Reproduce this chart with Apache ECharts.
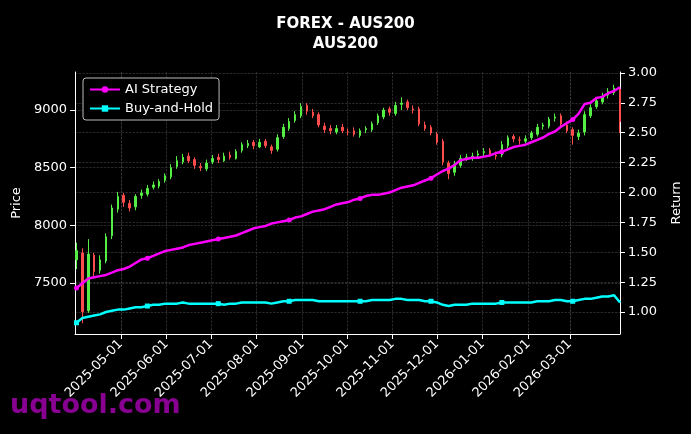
<!DOCTYPE html>
<html>
<head>
<meta charset="utf-8">
<script src="https://cdn.jsdelivr.net/npm/echarts@6/dist/echarts.min.js"></script>
<style>html,body{margin:0;background:#000;}#main{width:691px;height:434px;}</style>
</head>
<body>
<div id="main"></div>
<script>
// one candle every 4 days from 2025-04-01
var startDate = '2025-04-01';
var stepDays = 4;
var closes = [7780,7250,7750,7600,7700,7900,8150,8250,8200,8150,8250,8280,8320,8350,8380,8430,8500,8560,8590,8560,
  8520,8500,8540,8580,8570,8600,8590,8640,8700,8710,8690,8720,8690,8650,8760,8850,8900,8960,9030,8990,
  8950,8870,8830,8820,8840,8820,8810,8790,8820,8840,8880,8950,9000,8980,9040,9060,9020,9000,8880,8840,
  8800,8720,8550,8450,8530,8580,8590,8600,8620,8640,8620,8600,8700,8760,8750,8740,8750,8800,8850,8870,
  8920,8940,8880,8820,8780,8800,8960,9020,9080,9120,9160,9190,8900];
var opens = [7700,7760,7260,7740,7610,7690,7910,8140,8260,8190,8160,8260,8270,8330,8340,8390,8420,8510,8550,8600,
  8570,8510,8490,8550,8590,8560,8610,8580,8650,8690,8720,8680,8730,8680,8660,8770,8840,8910,8950,9040,
  8980,8960,8860,8840,8810,8850,8810,8820,8780,8830,8830,8890,8940,9010,8970,9050,9070,9010,9010,8870,
  8850,8790,8730,8540,8460,8520,8590,8580,8610,8630,8650,8610,8610,8690,8770,8740,8730,8760,8790,8860,
  8860,8930,8950,8870,8830,8770,8810,8950,9030,9070,9130,9150,9180];
var highs = [7850,7800,7880,7760,7740,7930,8180,8290,8280,8220,8270,8310,8350,8380,8400,8450,8530,8600,8620,8630,
  8590,8540,8570,8610,8620,8630,8640,8660,8720,8740,8740,8750,8750,8700,8790,8880,8930,8990,9060,9060,
  9010,8980,8890,8870,8870,8880,8840,8850,8840,8860,8900,8970,9020,9030,9070,9110,9090,9040,9030,8900,
  8870,8810,8750,8560,8560,8610,8620,8630,8650,8670,8670,8640,8730,8780,8790,8770,8780,8820,8880,8890,
  8940,8970,8970,8900,8850,8830,8990,9050,9110,9150,9190,9220,9200];
var lows = [7620,7150,7240,7560,7580,7670,7880,8110,8160,8120,8130,8230,8250,8310,8320,8370,8400,8490,8530,8540,
  8490,8470,8470,8530,8540,8550,8570,8570,8630,8670,8660,8670,8670,8620,8640,8750,8820,8890,8930,8960,
  8930,8850,8800,8790,8790,8800,8780,8770,8760,8800,8810,8870,8920,8950,8950,9000,9000,8970,8860,8820,
  8780,8700,8520,8400,8430,8500,8560,8560,8590,8600,8600,8570,8590,8670,8720,8700,8710,8740,8770,8830,
  8840,8900,8860,8800,8700,8740,8780,8930,9010,9050,9100,9130,8800];
var aiStrategy = [1.20,1.24,1.28,1.29,1.30,1.31,1.33,1.35,1.36,1.38,1.41,1.44,1.45,1.47,1.49,1.51,1.52,1.53,1.54,1.56,
  1.57,1.58,1.59,1.60,1.61,1.62,1.63,1.64,1.66,1.68,1.70,1.71,1.72,1.74,1.75,1.76,1.77,1.79,1.80,1.82,
  1.84,1.85,1.86,1.88,1.90,1.91,1.92,1.94,1.95,1.97,1.98,1.98,1.99,2.00,2.02,2.04,2.05,2.06,2.08,2.10,
  2.12,2.15,2.18,2.20,2.23,2.27,2.28,2.29,2.29,2.30,2.31,2.33,2.34,2.36,2.38,2.39,2.40,2.42,2.44,2.46,
  2.49,2.51,2.55,2.58,2.61,2.66,2.74,2.75,2.79,2.80,2.83,2.85,2.88];
var buyHold = [0.91,0.95,0.96,0.97,0.98,1.00,1.01,1.02,1.02,1.03,1.04,1.04,1.05,1.06,1.06,1.07,1.07,1.07,1.08,1.07,
  1.07,1.07,1.07,1.07,1.07,1.06,1.07,1.07,1.08,1.08,1.08,1.08,1.08,1.07,1.08,1.09,1.09,1.10,1.10,1.10,
  1.10,1.09,1.09,1.09,1.09,1.09,1.09,1.09,1.09,1.09,1.10,1.10,1.10,1.10,1.11,1.11,1.10,1.10,1.10,1.09,
  1.09,1.08,1.06,1.05,1.06,1.06,1.06,1.07,1.07,1.07,1.07,1.07,1.08,1.08,1.08,1.08,1.08,1.08,1.09,1.09,
  1.09,1.10,1.10,1.09,1.09,1.10,1.11,1.11,1.12,1.13,1.13,1.14,1.08];
var monthTicks = ['2025-05-01','2025-06-01','2025-07-01','2025-08-01','2025-09-01','2025-10-01','2025-11-01',
  '2025-12-01','2026-01-01','2026-02-01','2026-03-01'];
var priceTicks = [7500,8000,8500,9000];
var returnTicks = [1.00,1.25,1.50,1.75,2.00,2.25,2.50,2.75,3.00];

var t0 = Date.parse(startDate + 'T00:00:00Z');
var dates = closes.map(function (c, i) { return t0 + i * stepDays * 86400000; });
var candleData = closes.map(function (c, i) { return [dates[i], opens[i], c, lows[i], highs[i]]; });
var aiData = aiStrategy.map(function (v, i) { return [dates[i], v]; });
var bhData = buyHold.map(function (v, i) { return [dates[i], v]; });
var monthTs = monthTicks.map(function (d) { return Date.parse(d + 'T00:00:00Z'); });

// a marker on every 12th point, like the reference
function markEvery(value, params) { return params.dataIndex % 12 === 0 ? 5 : 0; }

var gridLine = { show: true, lineStyle: { color: '#444', type: 'dashed', width: 0.6 } };
var txt = { color: '#fff', fontSize: 13, fontFamily: 'DejaVu Sans' };

var myChart = echarts.init(document.getElementById('main'));
myChart.setOption({
    backgroundColor: '#000',
    animation: false,
    title: {
        text: 'FOREX - AUS200\nAUS200',
        left: 'center', top: 9,
        textStyle: { color: '#fff', fontSize: 15, fontWeight: 'bold', fontFamily: 'DejaVu Sans', lineHeight: 20 }
    },
    graphic: [{
        type: 'text', left: 10, top: 392,
        style: { text: 'uqtool.com', fill: 'rgba(160,0,170,0.85)', font: 'bold 27px DejaVu Sans' }
    }],
    legend: {
        left: 83, top: 78, orient: 'vertical', itemGap: 6,
        backgroundColor: '#000', borderColor: '#bbb', borderWidth: 1, borderRadius: 3, padding: [5, 6],
        itemWidth: 30, itemHeight: 8,
        textStyle: { color: '#fff', fontSize: 13, fontFamily: 'DejaVu Sans' },
        data: ['AI Strategy', 'Buy-and-Hold']
    },
    grid: { left: 75, right: 70, top: 72, bottom: 100 },
    xAxis: {
        type: 'time',
        min: Date.parse('2025-03-31T00:00:00Z'), max: Date.parse('2026-04-04T00:00:00Z'),
        axisLine: { lineStyle: { color: '#fff' } },
        axisTick: { customValues: monthTs, lineStyle: { color: '#fff' } },
        axisLabel: Object.assign({ customValues: monthTs, rotate: 45, formatter: '{yyyy}-{MM}-{dd}', hideOverlap: false }, txt),
        splitLine: gridLine
    },
    yAxis: [{
        type: 'value', name: 'Price', nameLocation: 'middle', nameGap: 52, nameTextStyle: txt,
        min: 7057, max: 9330,
        axisLine: { show: true, lineStyle: { color: '#fff' } },
        axisTick: { show: true, customValues: priceTicks },
        axisLabel: Object.assign({ customValues: priceTicks, formatter: function (v) { return String(v); } }, txt),
        splitLine: gridLine
    }, {
        type: 'value', name: 'Return', nameLocation: 'middle', nameGap: 50, nameTextStyle: txt,
        min: 0.816, max: 3.008,
        axisLine: { show: true, lineStyle: { color: '#fff' } },
        axisTick: { show: true, customValues: returnTicks },
        axisLabel: Object.assign({ customValues: returnTicks, formatter: function (v) { return v.toFixed(2); } }, txt),
        splitLine: gridLine
    }],
    series: [{
        type: 'candlestick', name: 'Price', data: candleData, barMaxWidth: 2,
        itemStyle: { color: '#55ee44', color0: '#ff4c4c', borderColor: '#55ee44', borderColor0: '#ff4c4c' }
    }, {
        type: 'line', name: 'AI Strategy', yAxisIndex: 1, data: aiData,
        symbol: 'circle', symbolSize: markEvery, showAllSymbol: true,
        itemStyle: { color: '#ff00ff' }, lineStyle: { color: '#ff00ff', width: 2.5 }
    }, {
        type: 'line', name: 'Buy-and-Hold', yAxisIndex: 1, data: bhData,
        symbol: 'rect', symbolSize: markEvery, showAllSymbol: true,
        itemStyle: { color: '#00ffff' }, lineStyle: { color: '#00ffff', width: 2.5 }
    }]
});
</script>
</body>
</html>
